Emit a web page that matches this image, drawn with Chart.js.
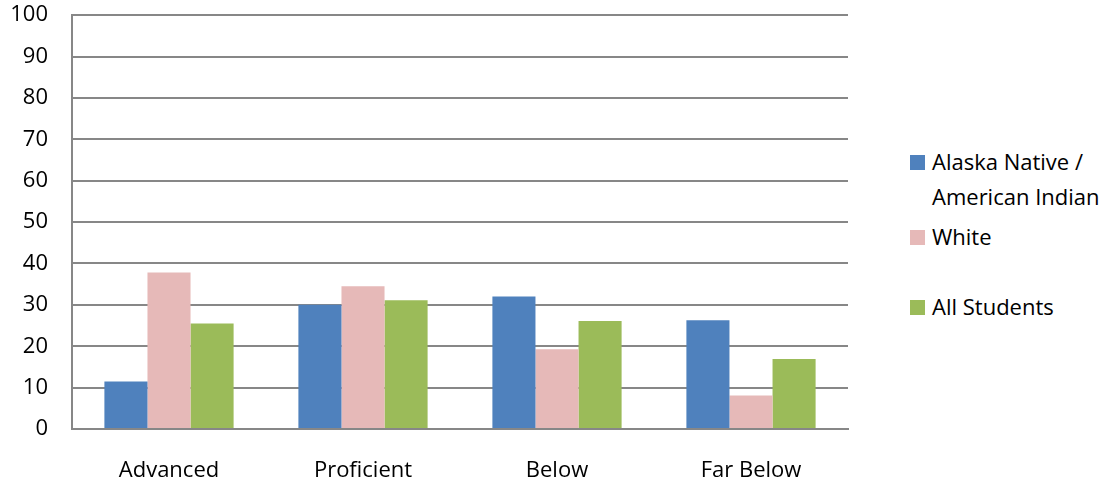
<!DOCTYPE html>
<html>
<head>
<meta charset="utf-8">
<script src="https://cdn.jsdelivr.net/npm/chart.js@4"></script>
<style>
  body { margin: 0; background: #fff; font-family: 'Open Sans', sans-serif; overflow: hidden; }
  #wrap { position: relative; width: 1113px; height: 486px; overflow: hidden; }
  #box { position: absolute; left: 0; top: -22px; width: 850px; height: 509px; }
  #legend { position: absolute; left: 910px; top: 144px; font-size: 22px; color: #000; white-space: nowrap; }
  .item { position: relative; padding-left: 22px; line-height: 35px; }
  .item span.sw { position: absolute; left: 0; top: 11px; width: 15px; height: 15px; }
</style>
</head>
<body>
<div id="wrap">
  <div id="box"><canvas id="chart"></canvas></div>
  <div id="legend"></div>
</div>
<script>
const categories = ['Advanced', 'Proficient', 'Below', 'Far Below'];
const alaskaNative = [11.5, 30.0, 32.0, 26.3];
const white = [37.8, 34.5, 19.3, 8.1];
const allStudents = [25.5, 31.1, 26.1, 16.9];
const yTicks = [0, 10, 20, 30, 40, 50, 60, 70, 80, 90, 100];

const names = ['Alaska Native /\nAmerican Indian', 'White', 'All Students'];
const colors = ['#4f81bd', '#e6b9b8', '#9bbb59'];
const gapAfter = [5, 35, 0];

const ctx = document.getElementById('chart').getContext('2d');
const chart = new Chart(ctx, {
    type: 'bar',
    data: {
        labels: categories,
        datasets: [alaskaNative, white, allStudents].map((d, i) => ({
            label: names[i],
            data: d,
            backgroundColor: colors[i],
            borderWidth: 0,
            barPercentage: 1,
            categoryPercentage: 0.666
        }))
    },
    options: {
        responsive: true,
        maintainAspectRatio: false,
        animation: false,
        layout: { padding: { top: 0, right: 2 } },
        scales: {
            x: {
                grid: { display: false, drawTicks: false },
                border: { color: '#878787', width: 2 },
                ticks: { color: '#000', font: { family: 'Open Sans', size: 22 }, padding: 29 },
                afterFit: s => { s.height = 58; }
            },
            y: {
                min: 0,
                max: 100,
                afterBuildTicks: s => { s.ticks = yTicks.map(v => ({ value: v })); },
                grid: { color: '#878787', lineWidth: 2, drawTicks: false },
                border: { color: '#878787', width: 2 },
                ticks: { color: '#000', font: { family: 'Open Sans', size: 22 }, padding: 24 },
                afterFit: s => { s.width = 72; }
            }
        },
        plugins: {
            legend: { display: false },
            tooltip: { enabled: false }
        }
    }
});

// legend on the right, like the original
const lg = document.getElementById('legend');
names.forEach((n, i) => {
    const div = document.createElement('div');
    div.className = 'item';
    div.style.marginBottom = gapAfter[i] + 'px';
    div.innerHTML = '<span class="sw" style="background:' + colors[i] + '"></span>' + n.replace('\n', '<br>');
    lg.appendChild(div);
});
</script>
</body>
</html>
